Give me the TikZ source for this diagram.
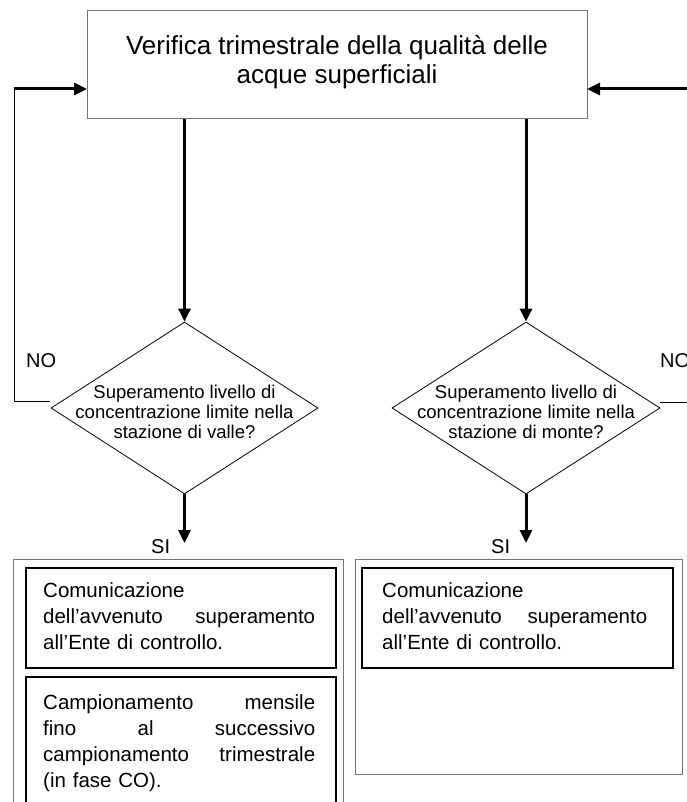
\documentclass[tikz,border=0pt]{standalone}
\usepackage{fontspec}
\setmainfont{Liberation Sans}
\usetikzlibrary{shapes.geometric,arrows.meta}
\begin{document}
\begin{tikzpicture}[x=1pt,y=-1pt,
  topbox/.style={draw=gray!90!black, line width=1pt, inner sep=0pt},
  decision/.style={diamond, draw=black, line width=0.8pt, inner sep=0pt},
  outerbox/.style={draw=gray!90!black, line width=1pt, inner sep=0pt, anchor=north west},
  innerbox/.style={draw=black, line width=2pt, inner sep=0pt, anchor=north west},
  flow/.style={line width=3pt, -{Triangle[length=13pt,width=12pt]}},
  loopline/.style={line width=1pt},
  dtext/.style={font=\fontsize{18.5}{20}\selectfont, align=center, inner sep=0pt},
  btext/.style={font=\fontsize{20.5}{26}\selectfont, align=left, inner sep=0pt, anchor=north west},
  lbl/.style={font=\fontsize{20}{22}\selectfont, inner sep=0pt, anchor=base west}]
\clip (0,0) rectangle (687,802);
\fill[white] (0,0) rectangle (687,802);

% top box
\node[topbox, minimum width=500pt, minimum height=108pt] (top) at (337,65) {};
\node[font=\fontsize{26}{29.5}\selectfont, align=center, inner sep=0pt] (toptext) at (337,62)
  {Verifica trimestrale della qualità delle\\acque superficiali};

% decisions
\node[decision, minimum width=267pt, minimum height=172pt] (dl) at (184.5,408) {};
\node[dtext] (dltext) at (184.5,412) {Superamento livello di\\concentrazione limite nella\\stazione di valle?};
\node[decision, minimum width=268pt, minimum height=172pt] (dr) at (526,408) {};
\node[dtext] (drtext) at (526,412) {Superamento livello di\\concentrazione limite nella\\stazione di monte?};

% coordinates
\coordinate (tl) at (184.5,119);
\coordinate (tr) at (526,119);
\coordinate (sil) at (184.5,543);
\coordinate (sir) at (526,543);
\coordinate (nl1) at (50,401);
\coordinate (nl2) at (14,401);
\coordinate (nl3) at (14,89);
\coordinate (inl) at (87,89);
\coordinate (nr1) at (660,402);
\coordinate (nr2) at (690,402);
\coordinate (nr3) at (690,89);
\coordinate (inr) at (587,89);

% flows
\draw[flow] (tl) -- (dl.north);
\draw[flow] (tr) -- (dr.north);
\draw[flow] (dl.south) -- (sil);
\draw[flow] (dr.south) -- (sir);
\draw[loopline] (nl1) -- (nl2) -- (nl3);
\draw[flow] (nl3) -- (inl);
\draw[loopline] (nr1) -- (nr2);
\draw[flow] (nr3) -- (inr);

% labels
\node[lbl] (nol) at (26,367) {NO};
\node[lbl] (nor) at (660,367) {NO};
\node[lbl] (silab) at (151,553) {SI};
\node[lbl] (sirab) at (491,553) {SI};

% left boxes
\node[outerbox, minimum width=330pt, minimum height=270pt] (ol) at (13,559) {};
\node[innerbox, minimum width=310pt, minimum height=100pt] (il1) at (25,567) {};
\node[innerbox, minimum width=310pt, minimum height=140pt] (il2) at (25,676) {};
\node[btext, text width=272pt] (tl1) at (43,582) {%
  Comunicazione\\
  \makebox[272pt]{dell’avvenuto\hfill superamento}\\
  all’Ente di controllo.};
\node[btext, text width=272pt] (tl2) at (43,694) {%
  \makebox[272pt]{Campionamento\hfill mensile}\\
  \makebox[272pt]{fino\hfill al\hfill successivo}\\
  \makebox[272pt]{campionamento\hfill trimestrale}\\
  (in fase CO).};

% right boxes
\node[outerbox, minimum width=327pt, minimum height=215pt] (or) at (355,559) {};
\node[innerbox, minimum width=311pt, minimum height=100pt] (ir1) at (361,567) {};
\node[btext, text width=265pt] (tr1) at (382,582) {%
  Comunicazione\\
  \makebox[265pt]{dell’avvenuto\hfill superamento}\\
  all’Ente di controllo.};
\end{tikzpicture}
\end{document}
